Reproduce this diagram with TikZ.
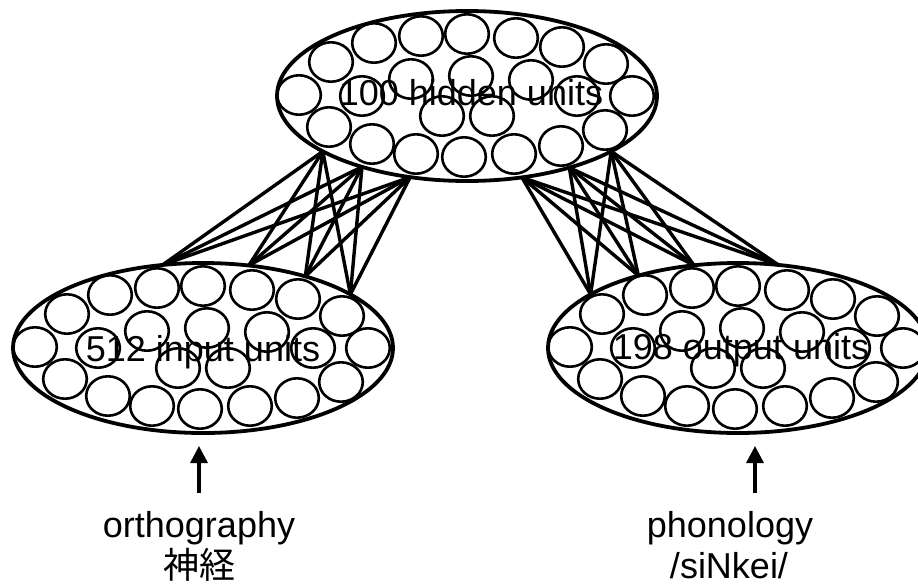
\documentclass[tikz,border=0pt]{standalone}
\usepackage{fontspec}
\setmainfont{Liberation Sans}
\newfontfamily\cjk{Noto Sans CJK JP}
\usetikzlibrary{shapes.geometric,arrows.meta}

% offsets of the 23 unit circles inside a layer ellipse
\newcommand\unitoffsets{-168/-1,-136/-34,-93/-53,-46/-60,0/-62,49/-58,95/-49,139/-32,
  165/0,138/34,94/50,47/58,-3/61,-51/58,-95/48,-138/31,
  -105/0,-56/-17,4/-20,64/-16,110/0,-25/20,25/20}

% draw the units of layer #1 centred at #2
\newcommand\drawunits[2]{%
  \begin{scope}[shift={#2}]
    \foreach \dx/\dy [count=\k] in \unitoffsets
      \node[unit] (#1-u\k) at (\dx,\dy) {};
  \end{scope}}

\begin{document}
\begin{tikzpicture}[x=1pt,y=-1pt,
  layer/.style={ellipse,draw,line width=3.8pt,minimum width=380pt,
    minimum height=170pt,inner sep=0pt,outer sep=0pt},
  unit/.style={ellipse,draw,line width=2.6pt,minimum width=43.6pt,
    minimum height=39.4pt,inner sep=0pt},
  link/.style={line width=3.4pt},
  lbl/.style={font=\fontsize{36}{42}\selectfont,inner sep=0pt,anchor=base},
  feed/.style={line width=3.4pt,-{Triangle[width=17pt,length=17pt]}}
]
\useasboundingbox (0,0) rectangle (918,587);

% units first, layer outlines on top
\drawunits{hid}{(467,96)}
\drawunits{inp}{(203,348)}
\drawunits{out}{(738,348)}

\node[layer] (hid) at (467,96) {};
\node[layer] (inp) at (203,348) {};
\node[layer] (out) at (738,348) {};

\node[lbl] (hidtxt) at (471,105) {100 hidden units};
\node[lbl] (inptxt) at (203,361) {512 input units};
\node[lbl] (outtxt) at (741,359) {198 output units};

% full connections input <-> hidden
\foreach \a in {201,214.5,235.5}
  \foreach \b in {116,61,35.5,20}
    \draw[link] (hid.\a) -- (inp.\b);

% full connections hidden <-> output
\foreach \a in {304.5,325.5,339}
  \foreach \b in {64.5,118.5,144.5,160.5}
    \draw[link] (hid.\a) -- (out.\b);

% external inputs
\coordinate (orthtail) at (199,493);
\coordinate (orthtip) at (199,446);
\coordinate (phontail) at (755,493);
\coordinate (phontip) at (755,446);
\draw[feed] (orthtail) -- (orthtip);
\draw[feed] (phontail) -- (phontip);

\node[lbl] (orth) at (199,537) {orthography};
\node[lbl] (orthex) at (199,578) {\cjk 神経};
\node[lbl] (phon) at (730,537) {phonology};
\node[lbl] (phonex) at (729,578) {/siNkei/};
\end{tikzpicture}
\end{document}
